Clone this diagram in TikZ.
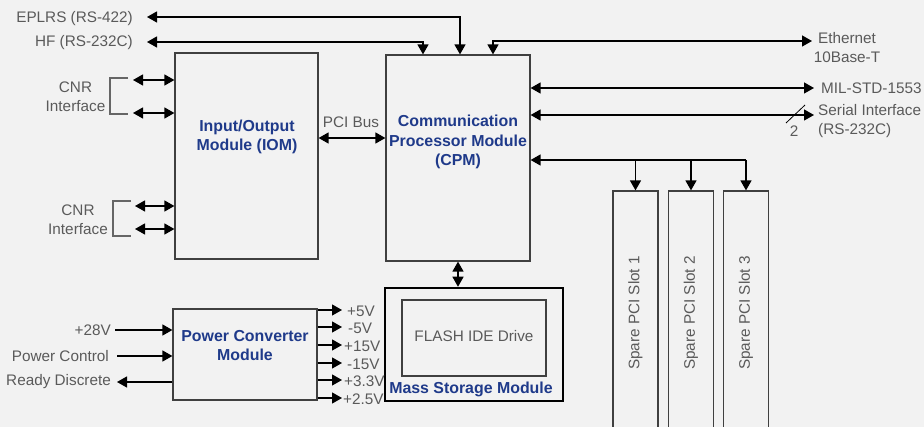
\documentclass[tikz,border=0pt]{standalone}
\usepackage{fontspec}
\setmainfont{Liberation Sans}
\usetikzlibrary{arrows.meta,calc}
\definecolor{bg}{HTML}{F2F2F2}
\definecolor{txt}{HTML}{5A5A5A}
\definecolor{ttlc}{HTML}{1F3A8A}
\definecolor{ln}{HTML}{404040}
\definecolor{brk}{HTML}{666666}
\begin{document}
\begin{tikzpicture}[x=1pt,y=-1pt,
  font=\fontsize{15.3}{19}\selectfont,
  >={Triangle[length=10pt,width=11pt]},
  box/.style={draw=ln, line width=1.2pt, inner sep=0pt},
  conn/.style={draw=black, line width=1.3pt},
  brack/.style={draw=brk, line width=1.1pt},
  lbl/.style={text=txt, inner sep=0pt},
  ttl/.style={text=ttlc, font=\fontsize{15.9}{19.5}\selectfont\bfseries, align=center, inner sep=0pt}]
\fill[bg] (0,0) rectangle (924,427);
\useasboundingbox (0,0) rectangle (924,427);

% main boxes
\node[box, minimum width=143, minimum height=206] (iom) at (246.5,156) {};
\node[ttl] (iomt) at (247,137) {Input/Output\\Module (IOM)};
\node[box, minimum width=144, minimum height=206] (cpm) at (458,158) {};
\node[ttl] (cpmt) at (458,142) {Communication\\Processor Module\\(CPM)};
\node[box, minimum width=144, minimum height=91] (pcm) at (245,354.5) {};
\node[ttl] (pcmt) at (245,345.5) {Power Converter\\Module};
\node[draw=black, line width=2.5pt, inner sep=0pt, minimum width=178, minimum height=113] (msm) at (474,344.5) {};
\node[box, minimum width=144, minimum height=76] (flash) at (474,338) {};
\node[lbl] (flasht) at (474,336) {FLASH IDE Drive};
\node[ttl] (msmt) at (471,389) {Mass Storage Module};

% spare slots
\foreach \i/\x in {1/635.5,2/691,3/746}{
  \node[box, minimum width=45, minimum height=250] (slot\i) at (\x,316) {};
  \node[lbl, rotate=90] (slott\i) at (\x,313) {Spare PCI Slot \i};
}

% PCI bus
\node[lbl] (pcil) at (351,122) {PCI Bus};
\draw[conn,<->] (iom.east |- 0,138) -- (cpm.west |- 0,138);

% EPLRS / HF / Ethernet
\node[lbl, anchor=east] (eplrs) at (133,19) {EPLRS (RS-422)};
\node[lbl, anchor=east] (hf) at (133,43) {HF (RS-232C)};
\coordinate (eplrsE) at (147,17);
\coordinate (hfE) at (147,42);
\draw[conn,<->] (eplrsE) -| (cpm.north -| 460,0);
\draw[conn,<->] (hfE) -| (cpm.north -| 423,0);
\node[lbl, align=center] (eth) at (847,47.5) {Ethernet\\10Base-T};
\coordinate (ethE) at (812,41);
\draw[conn,<->] (cpm.north -| 493,0) |- (ethE);

% MIL-STD / Serial
\node[lbl, anchor=west] (mil) at (821,88) {MIL-STD-1553};
\coordinate (milE) at (814,88);
\draw[conn,<->] (cpm.east |- milE) -- (milE);
\node[lbl, anchor=west, align=left] (ser) at (818,121.5) {Serial Interface\\(RS-232C)};
\coordinate (serE) at (814,115);
\draw[conn,<->] (cpm.east |- serE) -- (serE);
\coordinate (slA) at (786,123);
\coordinate (slB) at (805,105);
\draw[conn, line width=0.8pt] (slA) -- (slB);
\node[lbl] (two) at (794,131) {2};

% slot bus
\coordinate (busR) at (slot3.north |- 0,160);
\draw[conn,->] (busR) -- (cpm.east |- busR);
\draw[conn,->] (slot1.north |- busR) -- (slot1.north);
\draw[conn,->] (slot2.north |- busR) -- (slot2.north);
\draw[conn,->] (busR) -- (slot3.north);

% CPM - MSM
\draw[conn,<->] (cpm.south) -- (cpm.south |- msm.north);

% CNR interfaces
\node[lbl, align=center] (cnr1) at (75.5,96.5) {CNR\\Interface};
\node[lbl, align=center] (cnr2) at (78,219.5) {CNR\\Interface};
\draw[brack] (128,78) -- (110,78) -- (110,114) -- (128,114);
\draw[brack] (131,201) -- (113,201) -- (113,236) -- (131,236);
\coordinate (c1) at (133,80);
\coordinate (c2) at (133,113);
\coordinate (c3) at (135,206);
\coordinate (c4) at (135,229);
\foreach \c in {c1,c2,c3,c4}{
  \draw[conn,<->] (\c) -- (iom.west |- \c);
}

% power converter
\node[lbl, anchor=east] (v28) at (111,330) {+28V};
\node[lbl, anchor=east] (pctl) at (109,356) {Power Control};
\node[lbl, anchor=east] (rdy) at (111,382) {Ready Discrete};
\coordinate (p1) at (115,330);
\coordinate (p2) at (117,356);
\coordinate (p3) at (117,382);
\draw[conn,->] (p1) -- (pcm.west |- p1);
\draw[conn,->] (p2) -- (pcm.west |- p2);
\draw[conn,->] (pcm.west |- p3) -- (p3);
\foreach \y/\lx/\l [count=\k] in {310/347/+5V,327/348/-5V,345/344/+15V,363/347/-15V,380/344/+3.3V,398/343/+2.5V}{
  \coordinate (o\k) at (342,\y);
  \draw[conn,->] (pcm.east |- o\k) -- (o\k);
  \node[lbl, anchor=west] (ol\k) at (\lx,\y+1) {\l};
}
\end{tikzpicture}
\end{document}
